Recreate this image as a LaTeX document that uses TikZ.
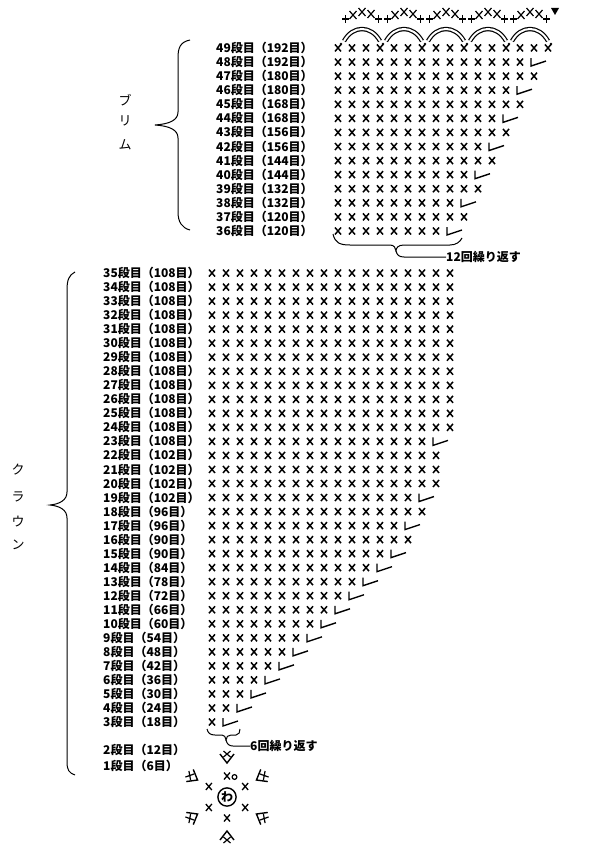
\documentclass[tikz,border=0pt]{standalone}
\usepackage{fontspec}
\newfontfamily\jp{Noto Sans CJK JP}
\begin{document}
\begin{tikzpicture}[x=1pt,y=-1pt,
  lbl/.style={font=\jp\bfseries\fontsize{12}{12}\selectfont, anchor=west, inner sep=0},
  kana/.style={font=\jp\fontsize{13}{13}\selectfont, inner sep=0},
  st/.style={line width=1.5pt},
  inc/.style={line width=1.4pt},
  brace/.style={line width=1pt}]
\useasboundingbox[fill=white] (0,0) rectangle (600,850);
% brim rows
\foreach \r/\n/\v/\c in {36/8/1/120,37/10/0/120,38/9/1/132,39/11/0/132,40/10/1/144,41/12/0/144,42/11/1/156,43/13/0/156,44/12/1/168,45/14/0/168,46/13/1/180,47/15/0/180,48/14/1/192,49/16/0/192}{
  \pgfmathsetmacro\yy{231-(\r-36)*14.08}
  \node[lbl] (b\r) at (216,\yy) {{\r}段目（{\c}目）};
  \foreach \i in {1,...,\n}{
    \pgfmathsetmacro\xx{338+(\i-1)*14}
    \draw[st] (\xx-3,\yy-3.5)--(\xx+3,\yy+3.5) (\xx-3,\yy+3.5)--(\xx+3,\yy-3.5);
  }
  \ifnum\v=1
    \pgfmathsetmacro\xx{338+\n*14-3}
    \draw[inc] (\xx,\yy-4)--(\xx,\yy+4)--(\xx+15,\yy-1);
  \fi
}
% crown rows
\foreach \r/\n/\v/\c in {3/1/1/18,4/2/1/24,5/3/1/30,6/4/1/36,7/5/1/42,8/6/1/48,9/7/1/54,10/8/1/60,11/9/1/66,12/10/1/72,13/11/1/78,14/12/1/84,15/13/1/90,16/15/0/90,17/14/1/96,18/16/0/96,19/15/1/102,20/17/0/102,21/17/0/102,22/17/0/102,23/16/1/108,24/18/0/108,25/18/0/108,26/18/0/108,27/18/0/108,28/18/0/108,29/18/0/108,30/18/0/108,31/18/0/108,32/18/0/108,33/18/0/108,34/18/0/108,35/18/0/108}{
  \pgfmathsetmacro\yy{722-(\r-3)*14.03}
  \node[lbl] (c\r) at (103,\yy) {{\r}段目（{\c}目）};
  \foreach \i in {1,...,\n}{
    \pgfmathsetmacro\xx{212+(\i-1)*14}
    \draw[st] (\xx-3,\yy-3.5)--(\xx+3,\yy+3.5) (\xx-3,\yy+3.5)--(\xx+3,\yy-3.5);
  }
  \ifnum\v=1
    \pgfmathsetmacro\xx{212+\n*14-3}
    \draw[inc] (\xx,\yy-4)--(\xx,\yy+4)--(\xx+15,\yy-1);
  \fi
}
\node[lbl] (c2) at (103,750) {2段目（12目）};
\node[lbl] (c1) at (103,766) {1段目（6目）};
% top edging
\foreach \k in {0,...,4}{
  \pgfmathsetmacro\xa{341+42*\k}
  \draw[double,double distance=2pt,line width=1.2pt] (\xa+3,41) .. controls (\xa+12,25) and (\xa+30,25) .. (\xa+39,41);
  \fill (\xa,44) circle (1.3);
  \draw[line width=1.2pt] (\xa+1,19)--(\xa+8,19) (\xa+4.5,15)--(\xa+4.5,23);
  \draw[line width=1.2pt] (\xa+34,19)--(\xa+41,19) (\xa+37.5,15)--(\xa+37.5,23);
  \foreach \dx/\dy in {12/15,21/12,30/14}{
    \draw[line width=1.2pt] (\xa+\dx-3.5,\dy-4)--(\xa+\dx+3.5,\dy+4) (\xa+\dx-3.5,\dy+4)--(\xa+\dx+3.5,\dy-4);
  }
}
\fill (551,44) circle (1.3);
\fill (551,8)--(559,8)--(555,15)--cycle;
% braces
\draw[brace] (190,40) .. controls (180,42) and (178,48) .. (178,58) -- (178,112) .. controls (178,120) and (170,124) .. (155,125)
  .. controls (170,126) and (178,130) .. (178,138) -- (178,212) .. controls (178,222) and (182,228) .. (190,230);
\draw[brace] (75,272) .. controls (69,275) and (67,280) .. (67,290) -- (67,492) .. controls (67,500) and (60,504) .. (50,505)
  .. controls (60,506) and (67,510) .. (67,518) -- (67,762) .. controls (67,770) and (69,773) .. (75,775);
\node[kana] (k1) at (125,100) {ブ};
\node[kana] (k2) at (125,121) {リ};
\node[kana] (k3) at (125,145) {ム};
\node[kana] (k4) at (18,470) {ク};
\node[kana] (k5) at (18,497) {ラ};
\node[kana] (k6) at (18,522) {ウ};
\node[kana] (k7) at (18,545) {ン};
% bottom braces
\coordinate (t1) at (396,251);
\draw[brace] (333,234) .. controls (335,243) and (340,245) .. (350,245) -- (390,245) .. controls (394,245) and (396,248) .. (t1)
  .. controls (396,248) and (398,245) .. (404,245) -- (450,245) .. controls (456,245) and (460,242) .. (462,238);
\node[lbl] (r12) at (446,257) {12回繰り返す};
\draw[brace] (t1) .. controls (397,255) and (399,257) .. (404,257) -- (r12.west);
\coordinate (t2) at (226,740);
\draw[brace] (207,729) .. controls (208,733) and (210,735) .. (215,735) -- (222,735) .. controls (224,735) and (226,737) .. (t2)
  .. controls (226,737) and (228,735) .. (231,735) -- (236,735) .. controls (239,735) and (240,732) .. (240,729);
\node[lbl] (r6) at (250,746) {6回繰り返す};
\draw[brace] (t2) .. controls (227,744) and (229,746) .. (233,746) -- (r6.west);
% center ring
\node[draw,circle,line width=1.4pt,inner sep=0.8pt,font=\jp\bfseries\fontsize{12}{12}\selectfont] (ring) at (227,797) {わ};
\foreach \a in {90,30,-30,-90,-150,150}{
  \pgfmathsetmacro\xx{227+21*cos(\a)}
  \pgfmathsetmacro\yy{797-21*sin(\a)}
  \draw[line width=1.3pt] (\xx-3,\yy-3.5)--(\xx+3,\yy+3.5) (\xx-3,\yy+3.5)--(\xx+3,\yy-3.5);
}
\draw[line width=1.2pt] (234.5,777) circle (2.4);
\foreach \a in {90,30,-30,-90,-150,150}{
  \begin{scope}[shift={(227,797)},rotate=-\a]
    \draw[line width=1.4pt] (43,-7)--(34,0)--(43,7);
    \draw[line width=1.2pt] (40,-3.5)--(46,3.5) (40,3.5)--(46,-3.5);
  \end{scope}
}
\end{tikzpicture}
\end{document}
